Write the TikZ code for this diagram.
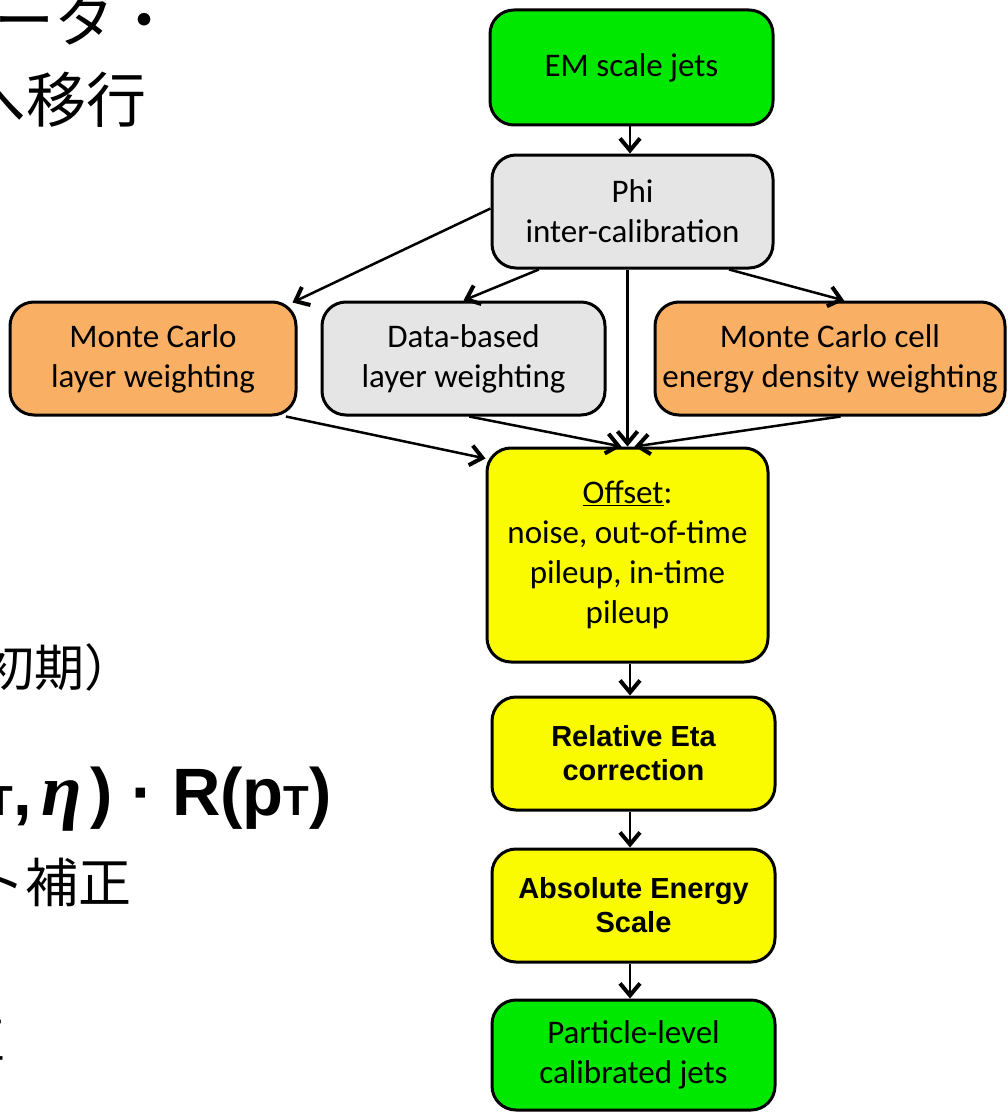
\documentclass[tikz,border=0pt]{standalone}
\usepackage{fontspec}
\setmainfont{Carlito}
\newfontfamily\arialfont{Liberation Sans}
\newfontfamily\cjk{Noto Sans CJK JP}
\newfontfamily\formfont{Liberation Sans}
\newfontfamily\grkfont{Liberation Serif}
\usetikzlibrary{arrows.meta,calc}
\definecolor{jetgreen}{RGB}{0,232,0}
\definecolor{mcorange}{RGB}{250,176,100}
\definecolor{boxgray}{RGB}{229,229,229}
\definecolor{offyellow}{RGB}{250,250,0}
\tikzset{
  box/.style={draw=black, line width=3pt, rounded corners=24pt, inner sep=0pt,
    align=center, font=\fontsize{33}{40}\selectfont},
  boldbox/.style={box, font=\arialfont\bfseries\fontsize{29}{34}\selectfont},
  conn/.style={line width=2.5pt, -{Straight Barb[length=12pt,width=20pt,line width=4pt]}},
  jp/.style={anchor=base east, inner sep=0pt, font=\cjk\fontsize{#1}{#1}\selectfont}
}
\begin{document}
\begin{tikzpicture}[x=1pt,y=-1pt]
\useasboundingbox (0,0) rectangle (1007,1113);
\clip (0,0) rectangle (1007,1113);

% left-side (cut-off) slide text
\node[jp=60] (j1) at (175,43) {ータ・};
\node[jp=60] (j2) at (147,123) {へ移行};
\node[jp=50] (j3) at (135,686) {初期）};
\node[anchor=base east, inner sep=0pt, font=\formfont\bfseries\fontsize{67}{67}\selectfont] (f1) at (332,815)
  {p{\fontsize{42}{42}\selectfont T},\hspace{10pt}{\grkfont\bfseries\itshape\fontsize{74}{74}\selectfont η}\hspace{8pt}) · R(p{\fontsize{42}{42}\selectfont T})};
\node[jp=53] (j4) at (132,902) {ト補正};
\node[jp=50] (j5) at (6,1058) {正};

% boxes
\node[box, fill=jetgreen, minimum width=283pt, minimum height=115pt] (em) at (631.5,67.5) {EM scale jets};
\node[box, fill=boxgray, minimum width=281pt, minimum height=113pt] (phi) at (632.5,211.5) {Phi\\inter-calibration};
\node[box, fill=mcorange, minimum width=286pt, minimum height=113pt] (mcl) at (153,358.5) {Monte Carlo\\layer weighting};
\node[box, fill=boxgray, minimum width=283pt, minimum height=113pt] (dbl) at (463.5,358.5) {Data-based\\layer weighting};
\node[box, fill=mcorange, minimum width=350pt, minimum height=113pt] (mcc) at (830,358.5) {Monte Carlo cell\\energy density weighting};
\node[box, fill=offyellow, minimum width=281pt, minimum height=214pt] (off) at (627.5,555) {\underline{Offset}:\\noise, out-of-time\\pileup, in-time\\pileup};
\node[boldbox, fill=offyellow, minimum width=283pt, minimum height=113pt] (rel) at (633.5,753.5) {Relative Eta\\correction};
\node[boldbox, fill=offyellow, minimum width=283pt, minimum height=113pt] (abs) at (633.5,905.5) {Absolute Energy\\Scale};
\node[box, fill=jetgreen, minimum width=283pt, minimum height=110pt] (par) at (633.5,1055) {Particle-level\\calibrated jets};

% connectors
\draw[conn] (em.south -| 630,0) -- (phi.north -| 630,0);
\draw[conn] ($(phi.west)+(0,-3)$) -- ($(mcl.north east)+(-5,2)$);
\draw[conn] ($(phi.south west)!0.17!(phi.south east)$) -- (dbl.north);
\draw[conn] ($(phi.south west)!0.84!(phi.south east)$) -- ($(mcc.north west)!0.54!(mcc.north east)$);
\draw[conn] (off.north |- phi.south) -- (off.north);
\draw[conn] ($(mcl.south west)!0.96!(mcl.south east)$) -- ($(off.north west)+(0,12)$);
\draw[conn] ($(dbl.south west)!0.52!(dbl.south east)$) -- ($(off.north)+(-6,0)$);
\draw[conn] ($(mcc.south west)!0.53!(mcc.south east)$) -- ($(off.north)+(7,0)$);
\draw[conn] (off.south -| 630,0) -- (rel.north -| 630,0);
\draw[conn] (rel.south -| 630,0) -- (abs.north -| 630,0);
\draw[conn] (abs.south -| 630,0) -- (par.north -| 630,0);
\end{tikzpicture}
\end{document}
